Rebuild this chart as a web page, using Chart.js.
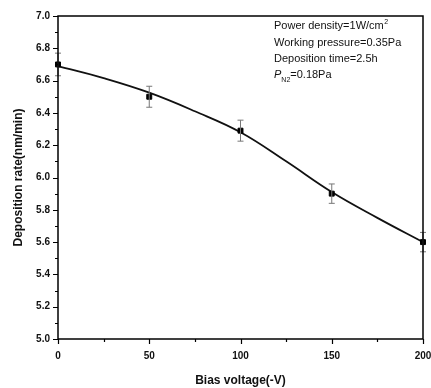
<!DOCTYPE html>
<html><head><meta charset="utf-8">
<script src="https://cdn.jsdelivr.net/npm/chart.js@4/dist/chart.umd.min.js"></script>
<style>html,body{margin:0;padding:0;background:#fff}#wrap{width:431px;height:388px;position:relative}</style>
</head><body><div id="wrap"><canvas id="c" width="431" height="388"></canvas></div>
<script>
const biasVoltage = [0, 50, 100, 150, 200];
const depositionRate = [6.70, 6.50, 6.29, 5.90, 5.60];
const errorBars = [0.07, 0.065, 0.065, 0.06, 0.06];
const fitX = [0, 25, 50, 75, 100, 125, 150, 175, 200];
const fitY = [6.69, 6.615, 6.525, 6.41, 6.28, 6.10, 5.91, 5.75, 5.60];
const xTicks = [0, 50, 100, 150, 200];
const yTicks = [5.0, 5.2, 5.4, 5.6, 5.8, 6.0, 6.2, 6.4, 6.6, 6.8, 7.0];
const notes = ["Power density=1W/cm", "Working pressure=0.35Pa", "Deposition time=2.5h", "=0.18Pa"];

const FONT = "'Liberation Sans', Arial, sans-serif";

const extras = {
  id: 'extras',
  afterDatasetsDraw(chart) {
    const ctx = chart.ctx, x = chart.scales.x, y = chart.scales.y, a = chart.chartArea;
    ctx.save();
    // error bars
    ctx.strokeStyle = '#777'; ctx.lineWidth = 1;
    biasVoltage.forEach((v, i) => {
      const px = x.getPixelForValue(v);
      const t = y.getPixelForValue(depositionRate[i] + errorBars[i]);
      const b = y.getPixelForValue(depositionRate[i] - errorBars[i]);
      ctx.beginPath();
      ctx.moveTo(px, t); ctx.lineTo(px, b);
      ctx.moveTo(px - 3, t); ctx.lineTo(px + 3, t);
      ctx.moveTo(px - 3, b); ctx.lineTo(px + 3, b);
      ctx.stroke();
    });
    // frame
    ctx.strokeStyle = '#000'; ctx.lineWidth = 1.5;
    ctx.strokeRect(a.left, a.top, a.right - a.left, a.bottom - a.top);
    // ticks
    ctx.lineWidth = 1.2;
    ctx.beginPath();
    for (let v = 0; v <= 200; v += 25) {
      const px = Math.round(x.getPixelForValue(v)) + 0.5;
      const len = v % 50 === 0 ? 5 : 3;
      ctx.moveTo(px, a.bottom); ctx.lineTo(px, a.bottom + len);
    }
    for (let k = 0; k <= 20; k++) {
      const v = 5 + k * 0.1;
      const py = Math.round(y.getPixelForValue(v)) + 0.5;
      const len = k % 2 === 0 ? 5 : 3;
      ctx.moveTo(a.left, py); ctx.lineTo(a.left - len, py);
    }
    ctx.stroke();
    // notes
    ctx.fillStyle = '#111';
    ctx.font = '11px ' + FONT;
    ctx.textBaseline = 'alphabetic';
    const nx = 274;
    ctx.fillText(notes[0], nx, 29);
    const w0 = ctx.measureText(notes[0]).width;
    ctx.font = '7px ' + FONT;
    ctx.fillText('2', nx + w0 + 0.5, 24);
    ctx.font = '11px ' + FONT;
    ctx.fillText(notes[1], nx, 46);
    ctx.fillText(notes[2], nx, 62);
    ctx.font = 'italic 11px ' + FONT;
    ctx.fillText('P', nx, 78);
    const wp = ctx.measureText('P').width;
    ctx.font = '7px ' + FONT;
    ctx.fillText('N2', nx + wp, 82);
    const wn = ctx.measureText('N2').width;
    ctx.font = '11px ' + FONT;
    ctx.fillText(notes[3], nx + wp + wn, 78);
    ctx.restore();
  }
};

new Chart(document.getElementById('c'), {
  type: 'scatter',
  data: {
    datasets: [
      {
        type: 'line',
        data: fitX.map((v, i) => ({x: v, y: fitY[i]})),
        borderColor: '#111', borderWidth: 1.8, pointRadius: 0,
        tension: 0.4, fill: false, order: 2
      },
      {
        data: biasVoltage.map((v, i) => ({x: v, y: depositionRate[i]})),
        pointStyle: 'rect', pointRadius: 3.5, backgroundColor: '#000', borderColor: '#000', order: 1
      }
    ]
  },
  options: {
    responsive: false, animation: false, devicePixelRatio: 1,
    clip: false,
    layout: {padding: {top: 16, right: 8, left: 0, bottom: 0}},
    plugins: {legend: {display: false}, tooltip: {enabled: false}},
    scales: {
      x: {
        type: 'linear', min: 0, max: 200,
        afterBuildTicks(s) { s.ticks = xTicks.map(v => ({value: v})); },
        afterFit(s) { s.height = 49; s.paddingLeft = 0; s.paddingRight = 0; },
        grid: {display: false, drawTicks: false},
        border: {display: false},
        ticks: {padding: 11, color: '#111', font: {family: FONT, size: 10, weight: 'bold'}, maxRotation: 0},
        title: {display: true, text: 'Bias voltage(-V)', color: '#111', padding: {top: 4, bottom: 0}, font: {family: FONT, size: 12, weight: 'bold'}}
      },
      y: {
        type: 'linear', min: 5.0, max: 7.0,
        afterBuildTicks(s) { s.ticks = yTicks.map(v => ({value: v})); },
        afterFit(s) { s.width = 58; s.paddingTop = 0; s.paddingBottom = 0; },
        grid: {display: false, drawTicks: false},
        border: {display: false},
        ticks: {padding: 8, color: '#111', font: {family: FONT, size: 10, weight: 'bold'}, callback: v => v.toFixed(1)},
        title: {display: true, text: 'Deposition rate(nm/min)', color: '#111', padding: {top: 11, bottom: 0}, font: {family: FONT, size: 12, weight: 'bold'}}
      }
    }
  },
  plugins: [extras]
});
</script></body></html>
